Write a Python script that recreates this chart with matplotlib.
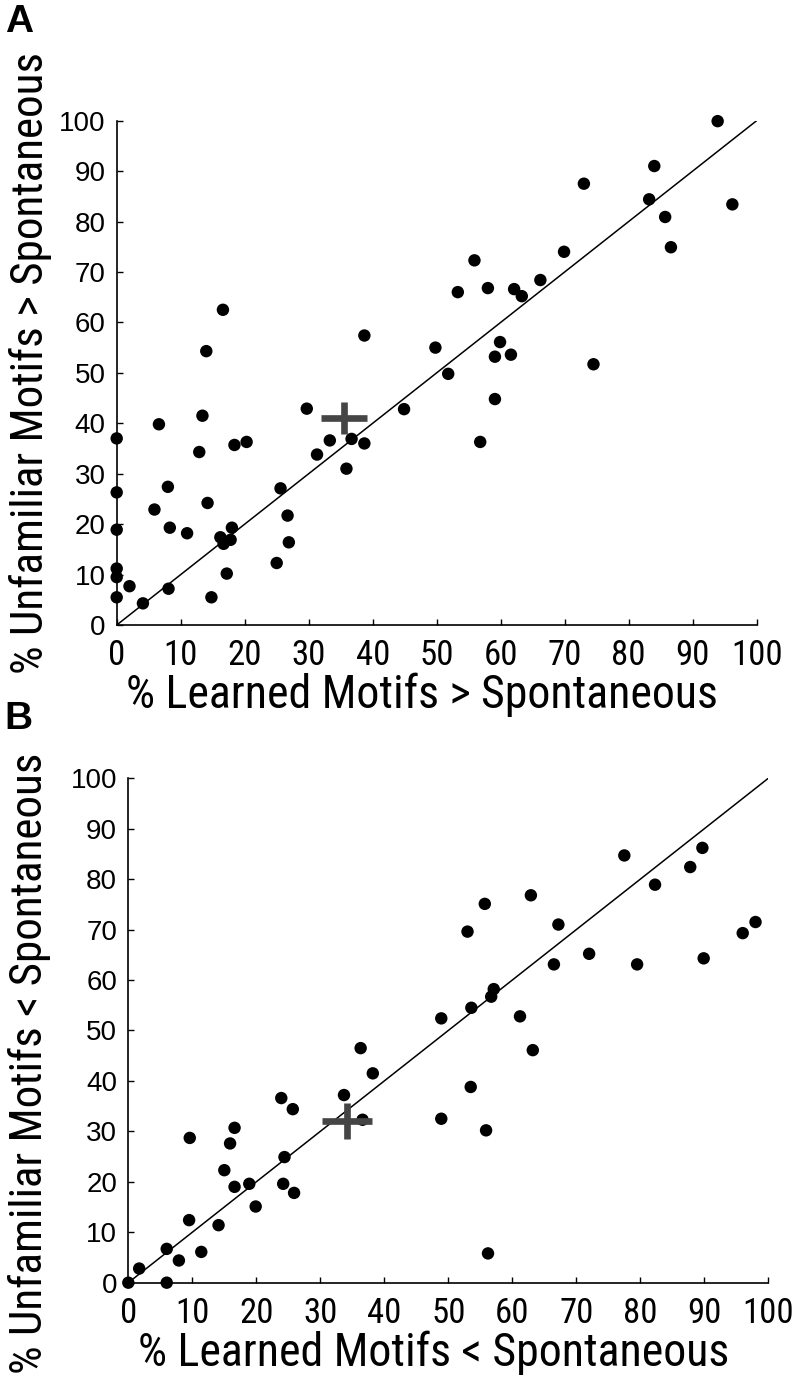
"""Learned vs unfamiliar motif scatter, two panels (A: >, B: <)."""

import matplotlib

matplotlib.use("Agg")
import matplotlib.pyplot as plt

# Panel A: % motifs with rate above spontaneous
a_learned = [
  16.6, 14.0, 38.7, 49.8, 93.9, 84.0, 73.0, 83.2, 96.2, 85.7, 86.6, 69.9, 55.9,
  66.2, 53.3, 58.0, 62.1, 63.3, 51.8, 59.9, 59.1, 61.6, 74.5, 59.1, 29.7, 44.9,
  33.3, 36.7, 38.7, 31.3, 35.9, 0.0, 6.6, 13.4, 18.4, 20.3, 12.9, 0.0, 8.0,
  14.2, 25.6, 5.9, 0.0, 8.3, 11.0, 18.0, 16.2, 17.8, 16.7, 26.7, 26.9, 25.0,
  17.2, 0.0, 0.0, 2.0, 8.1, 0.0, 4.1, 14.8, 56.8,
]
a_unfamiliar = [
  62.5, 54.3, 57.4, 55.0, 99.9, 91.0, 87.5, 84.4, 83.4, 80.9, 74.9, 74.0, 72.3,
  68.4, 66.0, 66.8, 66.6, 65.2, 49.8, 56.1, 53.2, 53.6, 51.7, 44.8, 42.9, 42.8,
  36.6, 36.9, 36.0, 33.8, 31.0, 37.0, 39.8, 41.5, 35.7, 36.3, 34.3, 26.3, 27.4,
  24.2, 27.1, 22.9, 18.9, 19.3, 18.2, 19.3, 17.4, 16.9, 16.1, 21.7, 16.4, 12.3,
  10.2, 11.2, 9.5, 7.7, 7.2, 5.5, 4.3, 5.5, 36.3,
]
a_mean = (35.5, 41.1)
a_sem = (3.6, 3.2)

# Panel B: % motifs with rate below spontaneous
b_learned = [
  48.9, 36.3, 38.2, 33.7, 36.6, 48.9, 23.9, 25.7, 16.6, 9.6, 15.9, 24.4, 15.0,
  18.9, 24.2, 16.6, 25.9, 19.9, 9.5, 14.1, 6.0, 11.4, 7.9, 1.7, 0.0, 6.0,
  89.7, 77.5, 87.8, 82.3, 62.9, 55.7, 53.0, 67.2, 98.0, 96.0, 72.0, 66.5, 79.5,
  89.9, 57.1, 56.7, 53.6, 61.2, 63.2, 53.5, 55.9, 56.2,
]
b_unfamiliar = [
  52.4, 46.5, 41.5, 37.2, 32.3, 32.5, 36.6, 34.4, 30.7, 28.7, 27.6, 24.9, 22.3,
  19.6, 19.6, 19.0, 17.8, 15.1, 12.4, 11.4, 6.7, 6.1, 4.4, 2.8, 0.0, 0.0,
  86.2, 84.7, 82.4, 78.9, 76.8, 75.1, 69.6, 71.0, 71.5, 69.3, 65.2, 63.1, 63.1,
  64.3, 58.2, 56.7, 54.5, 52.8, 46.1, 38.8, 30.2, 5.8,
]
b_mean = (34.1, 32.1)
b_sem = (3.9, 3.6)

ticks = list(range(0, 101, 10))
NARROW = ["Liberation Sans Narrow", "Roboto Condensed", "Liberation Sans"]
REGULAR = ["Liberation Sans", "DejaVu Sans"]


def draw_panel(ax, xs, ys, mean, sem, xlabel, ylabel, ylabel_x, ylabel_y):
  ax.plot([0, 100], [0, 100], color="black", linewidth=1.1, zorder=1)
  ax.scatter(xs, ys, s=80, color="black", edgecolors="none", zorder=2, clip_on=False)
  ax.errorbar(
    [mean[0]], [mean[1]], xerr=[sem[0]], yerr=[sem[1]], fmt="none",
    ecolor="#454545", elinewidth=4.8, capsize=0, zorder=3,
  )
  ax.set_xlim(0, 100)
  ax.set_ylim(0, 100)
  ax.set_xticks(ticks)
  ax.set_yticks(ticks)
  for side in ("top", "right"):
    ax.spines[side].set_visible(False)
  for side in ("left", "bottom"):
    ax.spines[side].set_linewidth(1.2)
  ax.tick_params(direction="in", length=4.5, width=1.0)
  ax.tick_params(axis="y", pad=8)
  ax.tick_params(axis="x", pad=10)
  for lab in ax.get_yticklabels():
    lab.set_family(REGULAR)
    lab.set_fontsize(20)
  for lab in ax.get_xticklabels():
    lab.set_family(NARROW)
    lab.set_fontsize(25)
  ax.set_xlabel(xlabel, family=NARROW, fontsize=33, va="center")
  ax.set_ylabel(ylabel, family=NARROW, fontsize=32.5, va="center")
  ax.xaxis.set_label_coords(0.477, -0.139)
  ax.yaxis.set_label_coords(ylabel_x, ylabel_y)


fig = plt.figure(figsize=(8.02, 13.93), dpi=100)
ax_a = fig.add_axes([0.1455, 0.5513, 0.798, 0.3621])
ax_b = fig.add_axes([0.16, 0.0792, 0.798, 0.3621])

draw_panel(
  ax_a, a_learned, a_unfamiliar, a_mean, a_sem,
  "% Learned Motifs > Spontaneous", "% Unfamiliar Motifs > Spontaneous",
  -0.135, 0.52,
)
draw_panel(
  ax_b, b_learned, b_unfamiliar, b_mean, b_sem,
  "% Learned Motifs < Spontaneous", "% Unfamiliar Motifs < Spontaneous",
  -0.154, 0.435,
)

fig.text(0.006, 0.997, "A", fontsize=28, fontweight="bold", family=REGULAR, va="top")
fig.text(0.006, 0.497, "B", fontsize=28, fontweight="bold", family=REGULAR, va="top")

fig.savefig("out.png", dpi=100)
